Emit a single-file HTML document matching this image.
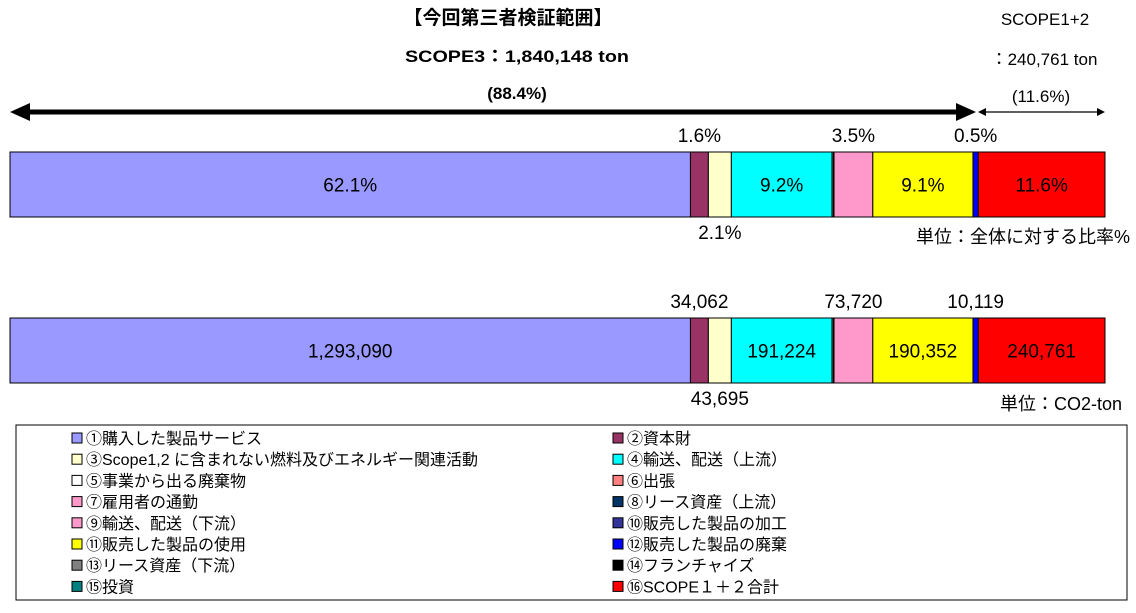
<!DOCTYPE html>
<html><head><meta charset="utf-8"><style>
body{margin:0;background:#fff;width:1136px;height:608px;overflow:hidden}
svg text{font-family:"Liberation Sans","Noto Sans CJK JP",sans-serif;fill:#000}
</style></head><body>
<svg id="chart" width="1136" height="608" viewBox="0 0 1136 608">
<g id="header">
<text x="508" y="24" font-size="19" font-weight="bold" text-anchor="middle">【今回第三者検証範囲】</text>
<text x="517" y="62" font-size="17" font-weight="bold" text-anchor="middle" textLength="224" lengthAdjust="spacingAndGlyphs">SCOPE3：1,840,148 ton</text>
<text x="517" y="99" font-size="17" font-weight="bold" text-anchor="middle">(88.4%)</text>
<text x="1045" y="25" font-size="17" text-anchor="middle">SCOPE1+2</text>
<text x="1044" y="65" font-size="17" text-anchor="middle">：240,761 ton</text>
<text x="1041" y="102" font-size="17" text-anchor="middle">(11.6%)</text>
<g>
<line x1="24" y1="112" x2="962" y2="112" stroke="#000" stroke-width="5"/>
<polygon points="10,112 30,103 30,121" fill="#000"/>
<polygon points="976,112 956,103 956,121" fill="#000"/>
</g>
<g>
<line x1="980" y1="112" x2="1103" y2="112" stroke="#000" stroke-width="1.2"/>
<polygon points="978,112 986,108 986,116" fill="#000"/>
<polygon points="1105,112 1097,108 1097,116" fill="#000"/>
</g>
</g>
<g id="bars"></g>
<text x="1130" y="243" font-size="18" text-anchor="end">単位：全体に対する比率%</text>
<text x="1122" y="410" font-size="18" text-anchor="end">単位：CO2-ton</text>
<rect x="16" y="425" width="1111" height="175" fill="#fff" stroke="#000" stroke-width="1"/>
<g id="legend"></g>
</svg>
<script>
const categories=["①購入した製品サービス","②資本財","③Scope1,2 に含まれない燃料及びエネルギー関連活動","④輸送、配送（上流）","⑤事業から出る廃棄物","⑥出張","⑦雇用者の通勤","⑧リース資産（上流）","⑨輸送、配送（下流）","⑩販売した製品の加工","⑪販売した製品の使用","⑫販売した製品の廃棄","⑬リース資産（下流）","⑭フランチャイズ","⑮投資","⑯SCOPE１＋２合計"];
const colors=["#9999ff","#993366","#ffffcc","#00ffff","#ffffff","#ff8080","#ff99cc","#003366","#ff99cc","#333399","#ffff00","#0000ff","#808080","#000000","#008080","#ff0000"];
const tonValues=[1293090,34062,43695,191224,2500,1386,0,0,73720,0,190352,10119,0,0,0,240761];
const pctLabels=["62.1%","1.6%","2.1%","9.2%","","","","","3.5%","","9.1%","0.5%","","","","11.6%"];
const tonLabels=["1,293,090","34,062","43,695","191,224","","","","","73,720","","190,352","10,119","","","","240,761"];
// label position: 0 inside, 1 above, -1 below
const labelPos=[0,1,-1,0,0,0,0,0,1,0,0,1,0,0,0,0];

const total=tonValues.reduce((a,b)=>a+b,0);
const X0=10,W=1095;
function xScale(v){return X0+v/total*W;}
const ns="http://www.w3.org/2000/svg";
function mk(tag,attrs,parent){const e=document.createElementNS(ns,tag);for(const k in attrs)e.setAttribute(k,attrs[k]);parent.appendChild(e);return e;}
const barsG=document.getElementById('bars');
function drawBar(y,h,labels,name){
  const g=mk('g',{},barsG);
  
  
  let cum=0;
  tonValues.forEach((v,i)=>{
    if(v<=0)return;
    const x1=xScale(cum),x2=xScale(cum+v);cum+=v;
    const r=mk('rect',{x:x1,y:y,width:x2-x1,height:h,fill:colors[i],stroke:"#000","stroke-width":1},g);
    
    
    const lab=labels[i];if(!lab)return;
    const cx=(x1+x2)/2;
    let ty=y+h/2+7;
    if(labelPos[i]===1)ty=y-10;
    if(labelPos[i]===-1)ty=y+h+22;
    const t=mk('text',{x:cx,y:ty,"font-size":19,"text-anchor":"middle"},g);
    
    
    t.textContent=lab;
  });
}
drawBar(152,65,pctLabels,'percent-bar');
drawBar(318,65,tonLabels,'ton-bar');
const lg=document.getElementById('legend');
categories.forEach((c,i)=>{
  const col=i%2,row=Math.floor(i/2);
  const x=col?613:72,y=438+row*21.2;
  const g=mk('g',{},lg);
  
  
  mk('rect',{x:x,y:y-5,width:10,height:10,fill:colors[i],stroke:"#000","stroke-width":1},g);
  const t=mk('text',{x:x+14,y:y+6,"font-size":16},g);
  t.textContent=c;
});
</script>
</body></html>
